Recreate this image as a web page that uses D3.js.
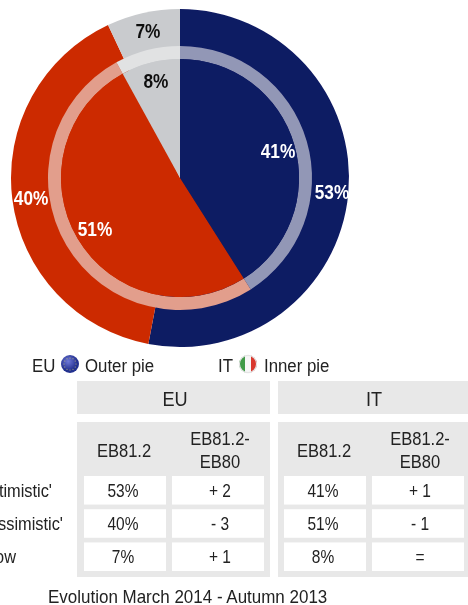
<!DOCTYPE html>
<html><head><meta charset="utf-8">
<script src="https://cdn.jsdelivr.net/npm/d3@7"></script>
<style>html,body{margin:0;padding:0;background:#fff;overflow:hidden}svg{display:block}text{font-family:"Liberation Sans",Arial,sans-serif}</style>
</head><body>
<script>
const categories = ["'Optimistic'", "'Pessimistic'", "Don't know"];
const outerEU = [53, 40, 7];
const innerIT = [41, 51, 8];
const colors = ["#0e1a63", "#cc2b00", "#c9cbce"];
const labelColors = ["#fff", "#fff", "#111"];
const deltaEU = ["+ 2", "- 3", "+ 1"];
const deltaIT = ["+ 1", "- 1", "="];
const groups = ["EU", "IT"];
const colHead = ["EB81.2", ["EB81.2-", "EB80"]];
const footer = "Evolution March 2014 - Autumn 2013";

const W = 468, H = 605, cx = 180, cy = 178, SX = 0.885;
const svg = d3.select("body").append("svg").attr("width", W).attr("height", H);
const defs = svg.append("defs");
const soft = defs.append("filter").attr("id", "soft").attr("x", "-5%").attr("y", "-5%").attr("width", "110%").attr("height", "110%");
soft.append("feGaussianBlur").attr("stdDeviation", 0.5);
const blue = defs.append("radialGradient").attr("id", "euG").attr("cx", "40%").attr("cy", "35%");
blue.append("stop").attr("offset", "0%").attr("stop-color", "#6f79d8");
blue.append("stop").attr("offset", "100%").attr("stop-color", "#23308f");
const root = svg.append("g").attr("filter", "url(#soft)");

const pie = d3.pie().sort(null).value(d => d);
const arcOuter = d3.arc().innerRadius(0).outerRadius(169);
const arcInner = d3.arc().innerRadius(0).outerRadius(119);
const arcRing = d3.arc().innerRadius(119).outerRadius(132);
const chart = root.append("g").attr("transform", `translate(${cx},${cy})`);
chart.selectAll("path.o").data(pie(outerEU)).join("path").attr("class", "o").attr("d", arcOuter).attr("fill", (d, i) => colors[i]);
chart.selectAll("path.r").data(pie(innerIT)).join("path").attr("class", "r").attr("d", arcRing).attr("fill", (d, i) => d3.interpolateRgb(colors[i], "#f2f2f2")(0.58));
chart.selectAll("path.i").data(pie(innerIT)).join("path").attr("class", "i").attr("d", arcInner).attr("fill", (d, i) => colors[i]);

// Horizontally condensed text, as the reference image is squeezed
const put = (parent, x, y, t, size, anchor, weight, fill) => parent.append("text")
  .attr("transform", `translate(${x},${y}) scale(${SX},1)`)
  .attr("text-anchor", anchor || "middle").attr("font-size", size)
  .attr("font-weight", weight || 400).attr("fill", fill || "#222").text(t);

const pctLabel = (data, radii, shifts) => {
  pie(data).forEach((d, i) => {
    const a = (d.startAngle + d.endAngle) / 2 + shifts[i];
    put(chart, radii[i] * Math.sin(a), -radii[i] * Math.cos(a) + 6.5, data[i] + "%", 19.5, "middle", 700, labelColors[i]);
  });
};
pctLabel(outerEU, [152.7, 150.3, 149.5], [0.004, -0.009, 0.004]);
pctLabel(innerIT, [101.6, 99.6, 99], [0.014, -0.014, 0.006]);

// Legend
put(root, 32, 372, "EU", 19, "start");
root.append("circle").attr("cx", 70).attr("cy", 364).attr("r", 9).attr("fill", "url(#euG)");
d3.range(12).forEach(k => root.append("circle")
  .attr("cx", 70 + 6 * Math.cos(k * Math.PI / 6)).attr("cy", 364 + 6 * Math.sin(k * Math.PI / 6))
  .attr("r", 0.5).attr("fill", "#d8d070"));
put(root, 85, 372, "Outer pie", 19, "start");
put(root, 218, 372, "IT", 19, "start");
defs.append("clipPath").attr("id", "fc").append("circle").attr("cx", 248).attr("cy", 364).attr("r", 9);
const fg = root.append("g").attr("clip-path", "url(#fc)");
["#3f9a47", "#f6f6f6", "#d9382e"].forEach((c, i) => fg.append("rect").attr("x", 239 + i * 6).attr("y", 355).attr("width", 6.1).attr("height", 18).attr("fill", c));
root.append("circle").attr("cx", 248).attr("cy", 364).attr("r", 8.6).attr("fill", "none").attr("stroke", "#e4e4e4").attr("stroke-width", 1.2);
put(root, 264, 372, "Inner pie", 19, "start");

// Table
const panels = [
  {x: 77, w: 193, head: groups[0], hc: 175, vals: outerEU, del: deltaEU, c1: 84, c2: 172},
  {x: 278, w: 190, head: groups[1], hc: 374, vals: innerIT, del: deltaIT, c1: 284, c2: 372}
];
const rowY = d3.scaleBand().domain(categories).range([476, 571]).paddingInner(0.14).paddingOuter(0);
const base = c => rowY(c) + rowY.bandwidth() / 2 + 6.5;
panels.forEach(p => {
  root.append("rect").attr("x", p.x).attr("y", 381).attr("width", p.w).attr("height", 33).attr("fill", "#e8e8e8");
  root.append("rect").attr("x", p.x).attr("y", 422).attr("width", p.w).attr("height", 155).attr("fill", "#e8e8e8");
  put(root, p.hc, 406, p.head, 20.5);
  put(root, p.c1 + 40, 457, colHead[0], 18.7);
  put(root, p.c2 + 48, 445, colHead[1][0], 18.7);
  put(root, p.c2 + 48, 468, colHead[1][1], 18.7);
  categories.forEach((c, i) => {
    const y = rowY(c), h = rowY.bandwidth();
    root.append("rect").attr("x", p.c1).attr("y", y).attr("width", 82).attr("height", h).attr("fill", "#fff");
    root.append("rect").attr("x", p.c2).attr("y", y).attr("width", 92).attr("height", h).attr("fill", "#fff");
    put(root, p.c1 + 39, base(c), p.vals[i] + "%", 17.5);
    put(root, p.c2 + 48, base(c), p.del[i], 17.5);
  });
});
// Row labels run off the left edge of the picture, as in the reference
const rowEnds = [52, 63, 16];
categories.forEach((c, i) => put(root, rowEnds[i], base(c), c, 18.5, "end"));
put(root, 48, 603, footer, 19.2, "start");
</script>
</body></html>
